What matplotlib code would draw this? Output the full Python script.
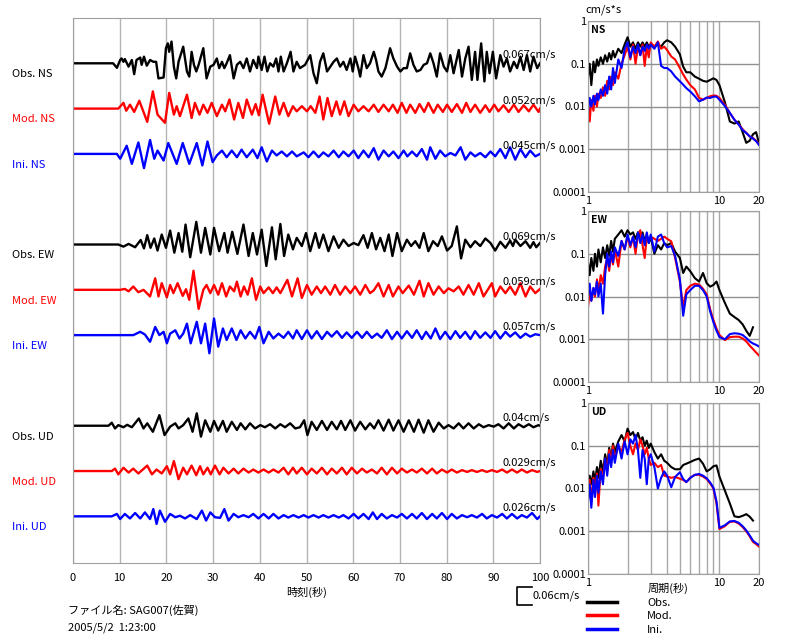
import numpy as np
import matplotlib
matplotlib.use('Agg')
import matplotlib.pyplot as plt
import matplotlib.transforms as mtransforms
from matplotlib.lines import Line2D
from matplotlib.ticker import FixedLocator, NullLocator, NullFormatter

plt.rcParams['font.family'] = ['Noto Sans CJK JP', 'DejaVu Sans']
plt.rcParams['font.size'] = 8

# waveforms: (time s, velocity in 0.001 cm/s) at peaks/troughs
obs_ns = [(0, 0), (8.6, 0), (9.4, -15), (10.1, 11), (10.4, 16), (10.8, 5), (11.1, 14), (11.9, -11), (12.6, 11),
          (13.1, -36), (13.6, 11), (14.4, 19), (14.7, -5), (15.2, 22), (15.8, -8), (16.5, 11), (17.2, 5),
          (17.8, 5), (18.3, -50), (19.4, -47), (19.9, 50), (20.3, 66), (20.6, 38), (21.1, 72), (21.6, -11),
          (22.1, -50), (22.6, 5), (23.6, 55), (24.4, -27), (24.9, -44), (25.4, 38), (25.9, -5), (26.4, -27),
          (26.9, -5), (27.9, 50), (28.6, -50), (29.4, -11), (30.1, -5), (30.8, 16), (31.3, -16), (31.9, 5),
          (32.4, -16), (32.9, 0), (33.6, 27), (34.4, -50), (35.1, -5), (35.8, 5), (36.5, -16), (37.2, 16),
          (37.9, -27), (38.6, 11), (39.4, -16), (39.7, 22), (40.4, -22), (41.0, 22), (41.6, -27), (42.2, 0),
          (42.9, -11), (43.5, 16), (44.0, -27), (44.5, 22), (45.1, -27), (45.8, 0), (46.6, 38), (47.2, -27),
          (47.9, 5), (48.6, -16), (49.7, -5), (50.8, 27), (51.5, -33), (52.2, -66), (52.9, 5), (53.6, 33),
          (54.4, -27), (55.1, -11), (55.8, 5), (56.5, 16), (57.2, -11), (57.9, 5), (58.6, -22), (59.4, 16),
          (59.9, -27), (60.4, 22), (61.1, -16), (61.5, -44), (62.2, 27), (62.9, -16), (63.6, 0), (64.4, 38),
          (64.9, 11), (65.4, -27), (66.1, -44), (66.9, -16), (67.9, 50), (68.6, 16), (69.4, -11), (70.1, -27),
          (70.8, -16), (71.5, -16), (72.2, 33), (72.9, -5), (73.6, -27), (74.4, -22), (75.1, -5), (75.8, 0),
          (76.5, 33), (77.2, 0), (77.9, -44), (78.6, 33), (79.4, -11), (80.1, -27), (80.8, 27), (81.5, -33),
          (82.6, 44), (83.3, -44), (84.0, 16), (84.7, 55), (85.4, -55), (86.1, 38), (86.6, -55), (87.4, 66),
          (88.1, -60), (88.6, 38), (89.2, -33), (89.9, 38), (90.6, -50), (91.5, 27), (92.2, -11), (92.9, 16),
          (93.6, -27), (94.4, 5), (95.1, -16), (95.8, 22), (96.5, -22), (97.2, 27), (97.9, -27), (98.6, 22),
          (99.4, -16), (100, 0)]
mod_ns = [(0, 0), (9.7, 0), (10.8, 19), (11.4, -7), (12.2, 13), (13.1, -11), (14.2, 26), (14.9, -3), (15.9, -44),
          (17.1, 57), (18.1, -20), (19.7, -47), (20.6, 52), (21.6, -20), (22.2, 8), (22.9, -25), (24.4, 46),
          (25.4, -31), (26.1, 19), (27.1, -20), (27.9, 13), (28.8, -14), (29.7, 19), (30.8, -25), (31.9, 13),
          (32.6, -9), (33.5, 30), (34.5, -36), (35.4, 19), (36.4, -31), (37.2, 30), (38.3, -20), (39.1, 15),
          (39.8, -22), (40.6, 46), (42.0, -50), (43.3, 40), (44.2, -20), (45.1, 19), (46.1, -25), (47.1, 8),
          (47.9, -9), (49.0, 8), (50.1, -9), (50.9, 8), (51.9, -14), (52.8, 40), (53.6, -36), (54.5, 35),
          (55.4, -25), (56.4, 24), (57.2, -20), (58.1, 24), (59.0, -25), (60.1, 13), (61.1, -9), (62.2, 8),
          (63.3, -9), (64.4, 13), (65.4, -11), (66.5, 13), (67.6, -9), (68.5, 13), (69.5, -14), (70.4, 19),
          (71.4, -14), (72.2, 13), (73.3, -14), (74.2, 15), (75.2, -11), (76.1, 19), (77.2, -14), (78.1, 13),
          (79.2, -11), (80.1, 13), (81.1, -11), (82.2, 15), (83.3, -14), (84.2, 19), (85.1, -11), (86.1, 13),
          (87.2, -14), (88.3, 11), (89.2, -11), (90.2, 13), (91.1, -9), (92.2, 11), (93.3, -11), (94.4, 13),
          (95.4, -11), (96.5, 11), (97.6, -9), (98.6, 13), (99.7, -11), (100, 0)]
ini_ns = [(0, 0), (9.4, 0), (10.1, -16), (11.5, 27), (12.6, -33), (14.0, 38), (15.2, -47), (16.5, 46), (17.4, -16),
          (18.1, 11), (19.4, -22), (20.4, 36), (22.2, -33), (23.5, 36), (24.9, -33), (26.5, 36), (27.7, -38),
          (28.8, 41), (29.9, -27), (30.8, -5), (31.9, 11), (32.9, -11), (34.0, 11), (35.1, -11), (36.1, 14),
          (37.2, -11), (38.5, 14), (39.5, -14), (40.4, 22), (41.5, -25), (42.6, 11), (43.6, -5), (44.7, 8),
          (45.8, -8), (46.9, 8), (47.9, -8), (49.4, 5), (50.4, -11), (51.5, 8), (52.6, -11), (53.6, 5),
          (54.7, -8), (55.8, 11), (56.9, -11), (57.9, 8), (59.0, -8), (60.1, 11), (61.1, -14), (62.2, 11),
          (63.3, -11), (64.4, 19), (65.4, -19), (66.5, 11), (67.6, -8), (68.6, 8), (69.7, -14), (70.8, 11),
          (71.6, -8), (72.6, 8), (73.6, -8), (74.7, 16), (75.8, -19), (76.5, 22), (77.6, -16), (78.6, 11),
          (79.7, -8), (80.8, 3), (81.9, -5), (83.0, 22), (84.0, -19), (85.1, 5), (86.1, -8), (87.2, 3),
          (88.3, -11), (89.4, 8), (90.4, -8), (91.5, 16), (92.6, -14), (93.6, 22), (94.7, -19), (95.8, 16),
          (96.9, -11), (97.9, 11), (99.0, -8), (100, 0)]
obs_ew = [(0, 0), (9.7, 0), (10.8, -7), (11.9, 2), (13.3, -9), (14.5, 15), (15.2, -13), (15.9, 31), (16.6, -11),
          (17.4, 20), (18.1, -20), (19.0, 33), (19.9, -11), (20.8, 46), (21.7, -27), (22.6, 38), (23.4, -24),
          (24.1, 66), (25.1, -42), (26.4, 75), (27.4, -27), (28.3, 55), (29.4, -33), (30.2, 55), (31.3, -22),
          (32.4, 38), (33.1, -27), (34.1, 42), (35.2, -31), (36.5, 66), (37.6, -38), (38.5, 38), (39.4, -33),
          (40.4, 49), (41.4, -71), (42.6, 57), (43.4, -49), (44.4, 68), (45.2, -38), (46.1, 33), (47.1, -16),
          (47.9, 22), (49.0, -5), (49.9, 38), (50.8, -22), (51.9, 38), (52.7, -11), (53.6, 33), (54.7, -22),
          (55.8, 27), (56.9, -11), (57.9, 16), (59.0, -5), (60.1, 5), (61.1, -2), (62.2, 31), (63.1, -11),
          (64.0, 38), (64.9, -16), (65.8, 22), (66.7, -22), (67.6, 33), (68.4, -38), (69.4, 38), (70.4, -22),
          (71.5, 16), (72.4, -5), (73.3, 11), (74.2, -11), (75.1, 38), (76.1, -22), (77.1, 11), (78.1, -5),
          (79.0, 27), (80.1, -20), (81.1, -5), (82.2, 60), (83.1, -46), (84.0, 16), (85.1, -9), (86.1, 11),
          (87.2, -5), (88.3, 20), (89.4, 5), (90.4, -20), (91.5, 9), (92.6, -11), (93.6, 13), (94.2, -5),
          (94.7, 16), (95.8, -5), (96.9, 11), (97.9, -11), (98.6, 8), (99.2, -9), (100, 5)]
mod_ew = [(0, 0), (10.1, 0), (11.1, 3), (11.9, -5), (12.9, 11), (14.0, -8), (15.1, 0), (16.5, -22), (17.6, 38),
          (18.3, -22), (19.0, 22), (20.1, -25), (20.8, 16), (21.5, -11), (22.4, 22), (23.5, -20), (24.2, 2),
          (24.9, -33), (25.8, 63), (26.9, -63), (27.9, 0), (28.6, 16), (29.4, -11), (30.2, 16), (31.1, -16),
          (31.9, 22), (32.8, -22), (33.6, 11), (34.5, -5), (35.1, 27), (35.9, -22), (36.6, 11), (37.4, -16),
          (38.3, 38), (39.2, -33), (40.1, 11), (40.8, -11), (41.9, 8), (42.8, -11), (43.6, 8), (44.4, -11),
          (45.9, 33), (46.9, -22), (48.1, 38), (49.0, -27), (50.1, 16), (51.1, -16), (52.2, 11), (53.1, -11),
          (54.0, 11), (55.1, -16), (56.1, 16), (57.2, -16), (58.3, 11), (59.4, -11), (60.4, 11), (61.5, -16),
          (62.6, 16), (63.6, -11), (64.4, -2), (65.4, 22), (66.5, -22), (67.6, 16), (68.5, -22), (69.7, 11),
          (70.6, -11), (71.9, 14), (73.0, -16), (74.2, 30), (75.1, -22), (76.1, 22), (77.2, -16), (78.3, 11),
          (79.4, -11), (80.4, 5), (81.5, -5), (82.6, 11), (83.6, -16), (84.7, 16), (85.8, -16), (86.9, 22),
          (87.9, -22), (89.7, 22), (90.4, -22), (91.5, 11), (92.6, -11), (93.6, 11), (94.7, -16), (95.8, 22),
          (96.9, -22), (97.9, 11), (99.0, -11), (100, 3)]
ini_ew = [(0, 0), (12.9, 0), (14.4, 11), (15.4, 2), (16.5, -22), (17.6, 27), (18.5, 0), (19.4, 11), (20.1, -27),
          (20.8, 5), (21.9, 16), (22.8, -11), (23.6, 5), (24.4, 38), (25.2, -27), (26.5, 44), (27.4, -27),
          (28.3, 38), (29.2, -60), (30.2, 55), (31.1, -38), (32.1, 22), (32.9, -16), (34.0, 22), (35.0, -16),
          (35.9, 16), (36.9, -11), (37.9, 11), (39.0, -11), (39.9, 27), (40.8, -27), (41.9, 11), (42.9, -11),
          (44.0, 5), (45.1, -9), (46.1, 11), (47.1, -11), (47.9, 16), (49.0, -13), (50.1, 16), (51.1, -11),
          (52.2, 13), (53.3, -13), (54.4, 11), (55.4, -5), (56.5, 13), (57.6, -9), (58.6, 9), (59.7, -9),
          (60.8, 11), (61.9, -9), (62.9, 11), (64.0, -9), (65.1, 5), (66.1, -9), (67.2, 16), (68.3, -13),
          (69.4, 11), (70.4, -11), (71.5, 13), (72.6, -9), (73.6, 16), (74.7, -13), (75.6, 11), (76.6, -11),
          (77.6, 22), (78.6, -13), (79.7, 11), (80.8, -13), (81.9, 13), (82.9, -9), (84.0, 11), (85.1, -13),
          (86.1, 13), (87.2, -9), (88.3, 9), (89.4, -9), (90.4, 13), (91.5, -11), (92.6, 11), (93.6, -5),
          (94.7, 9), (95.8, -9), (96.9, 5), (97.9, -5), (99.0, 3), (100, 0)]
obs_ud = [(0, 0), (7.6, 0), (8.3, 10), (9.0, -9), (9.7, 2), (10.8, -5), (11.6, 3), (12.6, -5), (14.1, 24),
          (15.1, -9), (15.9, 8), (17.1, -20), (18.5, 35), (19.6, -31), (20.8, -3), (21.9, 8), (22.6, -9),
          (23.6, 2), (24.7, 24), (25.6, -20), (26.5, 41), (27.4, -36), (28.3, 18), (29.4, -20), (30.2, 16),
          (31.1, -16), (32.1, 16), (32.9, -20), (34.0, 13), (35.1, -14), (35.9, 8), (36.9, -12), (37.9, 8),
          (39.0, -9), (40.1, 2), (41.1, -5), (42.2, 5), (43.3, -9), (44.4, 5), (45.4, -5), (46.5, 8),
          (47.6, -9), (48.6, -5), (49.5, 18), (50.2, -31), (51.1, 13), (52.2, -14), (53.3, 16), (54.4, -14),
          (55.4, 13), (56.5, -12), (57.4, 16), (58.3, -14), (59.4, 18), (60.4, -16), (61.5, 13), (62.6, -12),
          (63.6, 8), (64.5, -9), (65.4, 18), (66.5, -16), (67.6, 20), (68.6, -16), (69.7, 18), (70.8, -20),
          (71.9, 18), (73.0, -20), (74.0, 20), (75.1, -23), (76.1, 18), (77.2, -20), (78.3, 10), (79.4, -9),
          (80.4, 2), (81.5, -9), (82.6, 8), (83.6, -9), (84.7, 8), (85.8, -9), (86.9, 5), (87.9, -5),
          (89.0, 2), (90.1, -3), (91.1, 5), (92.2, -9), (93.3, 8), (94.4, -9), (95.4, 5), (96.5, -5),
          (97.6, 5), (98.6, -5), (99.7, 2), (100, 0)]
mod_ud = [(0, 0), (8.3, 0), (9.0, 8), (9.7, -11), (10.8, 11), (11.9, -5), (12.9, 8), (14.0, -8), (15.9, 18),
          (16.9, -11), (17.9, 5), (19.0, -8), (20.1, 16), (20.8, -11), (21.6, 33), (22.6, -27), (23.6, 11),
          (24.4, -11), (25.4, 18), (26.4, -14), (27.2, 16), (27.9, -11), (28.8, 11), (29.5, -11), (30.4, 18),
          (31.4, -11), (32.2, 11), (33.3, -8), (34.4, 8), (35.4, -8), (36.5, 8), (37.6, -5), (38.6, 5),
          (39.7, -5), (40.8, 5), (41.9, -5), (42.9, 5), (44.0, -5), (45.1, 11), (46.1, -11), (47.1, 11),
          (47.9, -8), (49.0, 11), (50.1, -11), (51.1, 8), (52.2, -8), (53.3, 11), (54.4, -11), (55.4, 8),
          (56.5, -8), (57.6, 11), (58.6, -11), (59.7, 11), (60.8, -8), (61.9, 8), (62.9, -5), (64.0, 5),
          (65.1, -8), (66.1, 11), (67.2, -11), (68.3, 11), (69.4, -8), (70.4, 8), (71.5, -5), (72.6, 5),
          (73.6, -5), (74.7, 8), (75.8, -8), (76.9, 8), (77.9, -8), (79.0, 5), (80.1, -5), (81.1, 5),
          (82.2, -5), (83.3, 3), (84.4, -3), (85.4, 3), (86.5, -3), (87.6, 3), (88.6, -3), (89.7, 3),
          (90.8, -3), (91.9, 5), (92.9, -5), (94.0, 5), (95.1, -5), (96.1, 5), (97.2, -5), (98.3, 3),
          (99.4, -3), (100, 0)]
ini_ud = [(0, 0), (8.3, 0), (9.4, 8), (10.1, -9), (11.1, 8), (12.2, -7), (13.3, 11), (14.4, -7), (15.4, 13),
          (16.5, -9), (17.2, 24), (17.9, -25), (18.6, 19), (19.7, -18), (20.8, 8), (21.9, -3), (22.9, 2),
          (24.0, -7), (25.1, 4), (26.5, -9), (27.6, 19), (28.5, -14), (29.4, 13), (30.4, -3), (31.5, -5),
          (32.4, 24), (33.3, -14), (34.4, 8), (35.4, -3), (36.5, 4), (37.6, -3), (38.6, 8), (39.7, -7),
          (40.8, 8), (41.9, -7), (42.9, 8), (44.0, -7), (45.1, 4), (46.1, -4), (47.2, 4), (48.3, -4),
          (49.4, 4), (50.4, -4), (51.5, 4), (52.6, -4), (53.6, 4), (54.7, -4), (55.8, 4), (56.9, -4),
          (57.9, 4), (59.0, -7), (60.1, 8), (61.1, -7), (62.2, 8), (63.3, -9), (64.2, 13), (65.1, -9),
          (66.1, 8), (67.2, -7), (68.3, 4), (69.4, -4), (70.4, 8), (71.5, -7), (72.6, 8), (73.6, -7),
          (74.7, 11), (75.8, -9), (76.9, 8), (77.9, -7), (79.0, 11), (80.1, -9), (81.1, 8), (82.2, -7),
          (83.3, 4), (84.4, -3), (85.4, 4), (86.5, -4), (87.6, 8), (88.6, -7), (89.7, 4), (90.8, -4),
          (91.9, 8), (92.9, -7), (94.0, 8), (95.1, -7), (96.1, 4), (97.2, -4), (98.3, 11), (99.4, -9), (100, 0)]

trace_names = ['Obs. NS', 'Mod. NS', 'Ini. NS', 'Obs. EW', 'Mod. EW', 'Ini. EW', 'Obs. UD', 'Mod. UD', 'Ini. UD']
trace_max = ['0.067cm/s', '0.052cm/s', '0.045cm/s', '0.069cm/s', '0.059cm/s', '0.057cm/s',
             '0.04cm/s', '0.029cm/s', '0.026cm/s']
trace_slot = [0, 1, 2, 4, 5, 6, 8, 9, 10]
trace_data = [obs_ns, mod_ns, ini_ns, obs_ew, mod_ew, ini_ew, obs_ud, mod_ud, ini_ud]
colors = ['black', 'red', 'blue']

# spectra, log10(cm/s*s) against period (s)
periods = [1.0, 1.03, 1.06, 1.1, 1.13, 1.17, 1.2, 1.25, 1.3, 1.35, 1.4, 1.45, 1.5, 1.55, 1.6, 1.7, 1.8, 1.9,
           2.0, 2.1, 2.2, 2.3, 2.4, 2.5, 2.6, 2.7, 2.8, 2.9, 3.0, 3.2, 3.4, 3.6, 3.8, 4.0, 4.3, 4.6, 5.0, 5.3,
           5.6, 6.0, 6.5, 7.0, 7.5, 8.0, 8.5, 9.0, 9.5, 10, 11, 12, 13, 14, 15, 16, 17, 18, 19, 20]
nan = np.nan
ns_obs = [-1.3, -1.0, -1.5, -0.95, -1.2, -0.9, -1.05, -0.85, -1.0, -0.8,
          -0.95, -0.75, -0.9, -0.7, -0.85, -0.65, -0.75, -0.55, -0.38, -0.6,
          -0.5, -0.65, -0.5, -0.6, -0.5, -0.6, -0.5, -0.6, -0.55, -0.6,
          -0.55, -0.6, -0.5, -0.45, -0.5, -0.6, -0.78, -1.07, -1.2, -1.2,
          -1.3, -1.35, -1.4, -1.42, -1.38, -1.34, -1.38, -1.5, -1.9, -2.35,
          -2.4, -2.35, -2.6, -2.85, -2.8, -2.65, -2.6, -2.85]
ns_mod = [-1.95, -2.35, -1.85, -2.1, -1.75, -2.0, -1.7, -1.8, -1.55, -1.75,
          -1.4, -1.6, -1.3, -1.5, -1.2, -1.35, -1.0, -0.8, -0.6, -0.9,
          -0.55, -1.0, -0.6, -0.8, -0.55, -1.05, -0.6, -0.85, -0.5, -0.6,
          -0.48, -0.65, -0.6, -0.68, -0.83, -0.9, -1.1, -1.25, -1.37, -1.5,
          -1.6, -1.8, -1.84, -1.8, -1.76, -1.74, -1.75, -1.8, -1.96, -2.15,
          -2.31, -2.42, -2.53, -2.62, -2.7, -2.74, -2.8, -2.88]
ns_ini = [-2.1, -1.8, -2.0, -1.75, -1.95, -1.7, -1.85, -1.6, -1.75, -1.5,
          -1.7, -1.3, -1.6, -1.1, -1.45, -0.9, -1.1, -0.65, -0.5, -0.85,
          -0.6, -0.75, -0.55, -0.8, -0.6, -0.7, -0.55, -0.65, -0.55, -0.65,
          -0.5, -1.05, -1.1, -1.1, -1.18, -1.3, -1.41, -1.49, -1.57, -1.65,
          -1.76, -1.88, -1.84, -1.79, -1.8, -1.77, -1.77, -1.84, -1.99, -2.15,
          -2.31, -2.42, -2.55, -2.62, -2.7, -2.75, -2.81, -2.9]
ew_obs = [-1.2, -1.5, -1.1, -1.4, -1.0, -1.3, -0.9, -1.2, -0.85, -1.1,
          -0.8, -1.05, -0.7, -0.95, -0.65, -0.55, -0.45, -0.6, -0.45, -0.55,
          -0.5, -0.65, -0.5, -0.6, -0.5, -0.7, -0.55, -0.75, -0.6, -1.0,
          -0.8, -0.9, -0.75, -0.8, -0.75, -0.95, -1.1, -1.45, -1.3, -1.41,
          -1.57, -1.65, -1.45, -1.69, -1.77, -1.73, -1.65, -1.85, -2.15, -2.4,
          -2.48, -2.55, -2.65, -2.8, -2.92, -2.72, nan, nan]
ew_mod = [-2.25, -1.9, -2.1, -1.8, -2.0, -1.6, -1.9, -1.5, -1.7, -1.3,
          -1.1, -1.4, -1.0, -1.25, -0.9, -1.3, -0.7, -0.9, -0.6, -0.85,
          -0.6, -1.0, -0.55, -0.45, -0.8, -1.1, -0.6, -0.7, -0.6, -0.65,
          -0.7, -0.65, -0.6, -0.65, -0.71, -1.1, -1.65, -2.25, -1.85, -1.75,
          -1.7, -1.72, -1.82, -1.95, -2.3, -2.55, -2.75, -2.9, -3.02, -2.95,
          -2.94, -2.94, -2.98, -3.05, -3.15, -3.23, -3.31, -3.38]
ew_ini = [-2.0, -1.7, -2.1, -1.8, -1.95, -1.65, -2.0, -1.7, -2.4, -1.5,
          -1.0, -1.3, -0.95, -1.2, -0.85, -1.05, -0.7, -0.9, -0.55, -0.8,
          -0.6, -0.85, -0.5, -0.75, -0.55, -0.8, -0.5, -0.75, -0.55, -0.95,
          -0.6, -0.55, -0.75, -0.85, -0.82, -1.05, -1.6, -2.45, -1.95, -1.85,
          -1.75, -1.75, -1.85, -2.0, -2.35, -2.6, -2.8, -2.95, -3.0, -2.88,
          -2.86, -2.87, -2.9, -2.97, -3.05, -3.1, -3.13, -3.17]
ud_obs = [-2.0, -1.7, -1.9, -1.6, -1.85, -1.5, -1.75, -1.35, -1.6, -1.2,
          -1.45, -1.05, -1.3, -0.95, -1.15, -0.9, -0.75, -0.9, -0.6, -0.75,
          -0.68, -0.85, -0.7, -0.88, -0.8, -1.0, -0.88, -1.05, -0.95, -1.15,
          -1.3, -1.2, -1.35, -1.4, -1.5, -1.55, -1.55, -1.45, -1.42, -1.38,
          -1.33, -1.3, -1.42, -1.6, -1.55, -1.48, -1.46, -1.72, -2.05, -2.35,
          -2.65, -2.67, -2.64, -2.6, -2.66, -2.75, nan, nan]
ud_mod = [-2.1, -1.8, -2.3, -1.75, -2.1, -1.65, -2.4, -1.55, -1.75, -1.3,
          -1.6, -1.1, -1.4, -1.0, -1.3, -1.0, -1.15, -0.85, -0.7, -1.0,
          -1.2, -0.95, -1.1, -0.85, -1.0, -1.2, -1.05, -1.3, -1.45, -1.4,
          -1.5, -1.45, -1.7, -1.72, -1.75, -1.73, -1.77, -1.8, -1.85, -1.75,
          -1.68, -1.68, -1.72, -1.78, -1.88, -2.0, -2.35, -2.95, -2.88, -2.78,
          -2.77, -2.82, -2.9, -3.0, -3.12, -3.25, -3.3, -3.36]
ud_ini = [-2.3, -1.9, -2.45, -1.8, -2.2, -1.7, -2.1, -1.6, -1.9, -1.3,
          -1.7, -1.2, -1.5, -1.1, -1.4, -0.95, -1.3, -0.9, -1.2, -0.85,
          -0.95, -0.75, -1.1, -1.75, -1.1, -1.3, -1.9, -1.3, -1.2, -1.5,
          -2.0, -1.75, -1.6, -1.7, -1.97, -1.73, -1.62, -1.78, -1.85, -1.75,
          -1.68, -1.66, -1.7, -1.76, -1.86, -1.98, -2.3, -2.92, -2.86, -2.77,
          -2.76, -2.8, -2.88, -2.98, -3.1, -3.22, -3.28, -3.32]
spec_panels = [('NS', ns_obs, ns_mod, ns_ini), ('EW', ew_obs, ew_mod, ew_ini), ('UD', ud_obs, ud_mod, ud_ini)]
spec_tops = [21, 211, 403]

W, H = 785, 637
scale = 0.4 / 0.06  # slot heights per cm/s

fig = plt.figure(figsize=(W / 100, H / 100), dpi=100)

# waveform panel
ax = fig.add_axes([73 / W, 1 - 563 / H, 467 / W, 545 / H])
lab_tr = mtransforms.blended_transform_factory(ax.transAxes, ax.transData)
for i in range(9):
    t, v = zip(*trace_data[i])
    y = -trace_slot[i] + np.array(v) * 0.001 * scale
    col = colors[i % 3]
    ax.plot(t, y, color=col, lw=1.7, solid_joinstyle='round')
    ax.text(-0.131, -trace_slot[i] - 0.24, trace_names[i], transform=lab_tr, color=col,
            ha='left', va='center', fontsize=8)
    ax.text(91.9, -trace_slot[i] + 0.18, trace_max[i], ha='left', va='center', fontsize=8,
            clip_on=False, zorder=5)
ax.set_xlim(0, 100)
ax.set_ylim(-11.03, 1.0)
ax.set_xticks(range(0, 101, 10))
ax.set_yticks([])
ax.grid(axis='x', color='#b4b4b4', lw=1)
ax.tick_params(axis='x', length=0, pad=7, labelsize=8)
for s in ax.spines.values():
    s.set_color('#a0a0a0')
ax.set_xlabel('時刻(秒)', fontsize=8, labelpad=3)

# amplitude scale bar
y0 = -11.56
h = 0.06 * scale
ax.plot([98.3, 95.1, 95.1, 98.3], [y0, y0, y0 - h, y0 - h], color='black', lw=1.2, clip_on=False)
ax.text(98.5, y0 - h / 2, '0.06cm/s', ha='left', va='center', fontsize=8, clip_on=False)

fig.text(68 / W, 1 - 610 / H, 'ファイル名: SAG007(佐賀)', fontsize=8, va='center')
fig.text(68 / W, 1 - 628 / H, '2005/5/2  1:23:00', fontsize=8, va='center')

# spectra panels
for (name, so, sm, si), top in zip(spec_panels, spec_tops):
    sax = fig.add_axes([588 / W, 1 - (top + 171) / H, 171 / W, 171 / H])
    for vals, col in zip([so, sm, si], colors):
        sax.plot(periods, 10 ** np.array(vals), color=col, lw=1.5)
    sax.set_xscale('log')
    sax.set_yscale('log')
    sax.set_xlim(1, 20)
    sax.set_ylim(1e-4, 1)
    sax.set_xticks([1, 10, 20])
    sax.set_xticklabels(['1', '10', '20'])
    sax.xaxis.set_minor_locator(FixedLocator([2, 3, 4, 5, 6, 7, 8, 9]))
    sax.xaxis.set_minor_formatter(NullFormatter())
    sax.set_yticks([1e-4, 1e-3, 1e-2, 1e-1, 1])
    sax.set_yticklabels(['0.0001', '0.001', '0.01', '0.1', '1'])
    sax.yaxis.set_minor_locator(NullLocator())
    sax.grid(which='both', axis='x', color='#a8a8a8', lw=1)
    sax.grid(which='major', axis='y', color='#909090', lw=1)
    sax.tick_params(which='both', length=0, labelsize=8)
    sax.tick_params(axis='x', pad=3)
    sax.tick_params(axis='y', pad=1.5)
    for s in sax.spines.values():
        s.set_color('#a0a0a0')
    sax.text(0.02, 0.947, name, transform=sax.transAxes, fontsize=7.5, fontweight='bold', va='center')
    if name == 'UD':
        sax.set_xlabel('周期(秒)', fontsize=8, labelpad=-1)
        sax.xaxis.set_label_coords(0.47, -0.085)
        sax.xaxis.label.set_va('center')

fig.text(585 / W, 1 - 10 / H, 'cm/s*s', fontsize=8, va='center')

handles = [Line2D([], [], color=c, lw=2.5) for c in colors]
fig.legend(handles, ['Obs.', 'Mod.', 'Ini.'], loc='upper left', bbox_to_anchor=(587 / W, 1 - 598 / H),
           frameon=False, fontsize=8, handlelength=2.7, handletextpad=2.7, labelspacing=0.3,
           borderpad=0, borderaxespad=0)

fig.savefig('out.png', dpi=100)
